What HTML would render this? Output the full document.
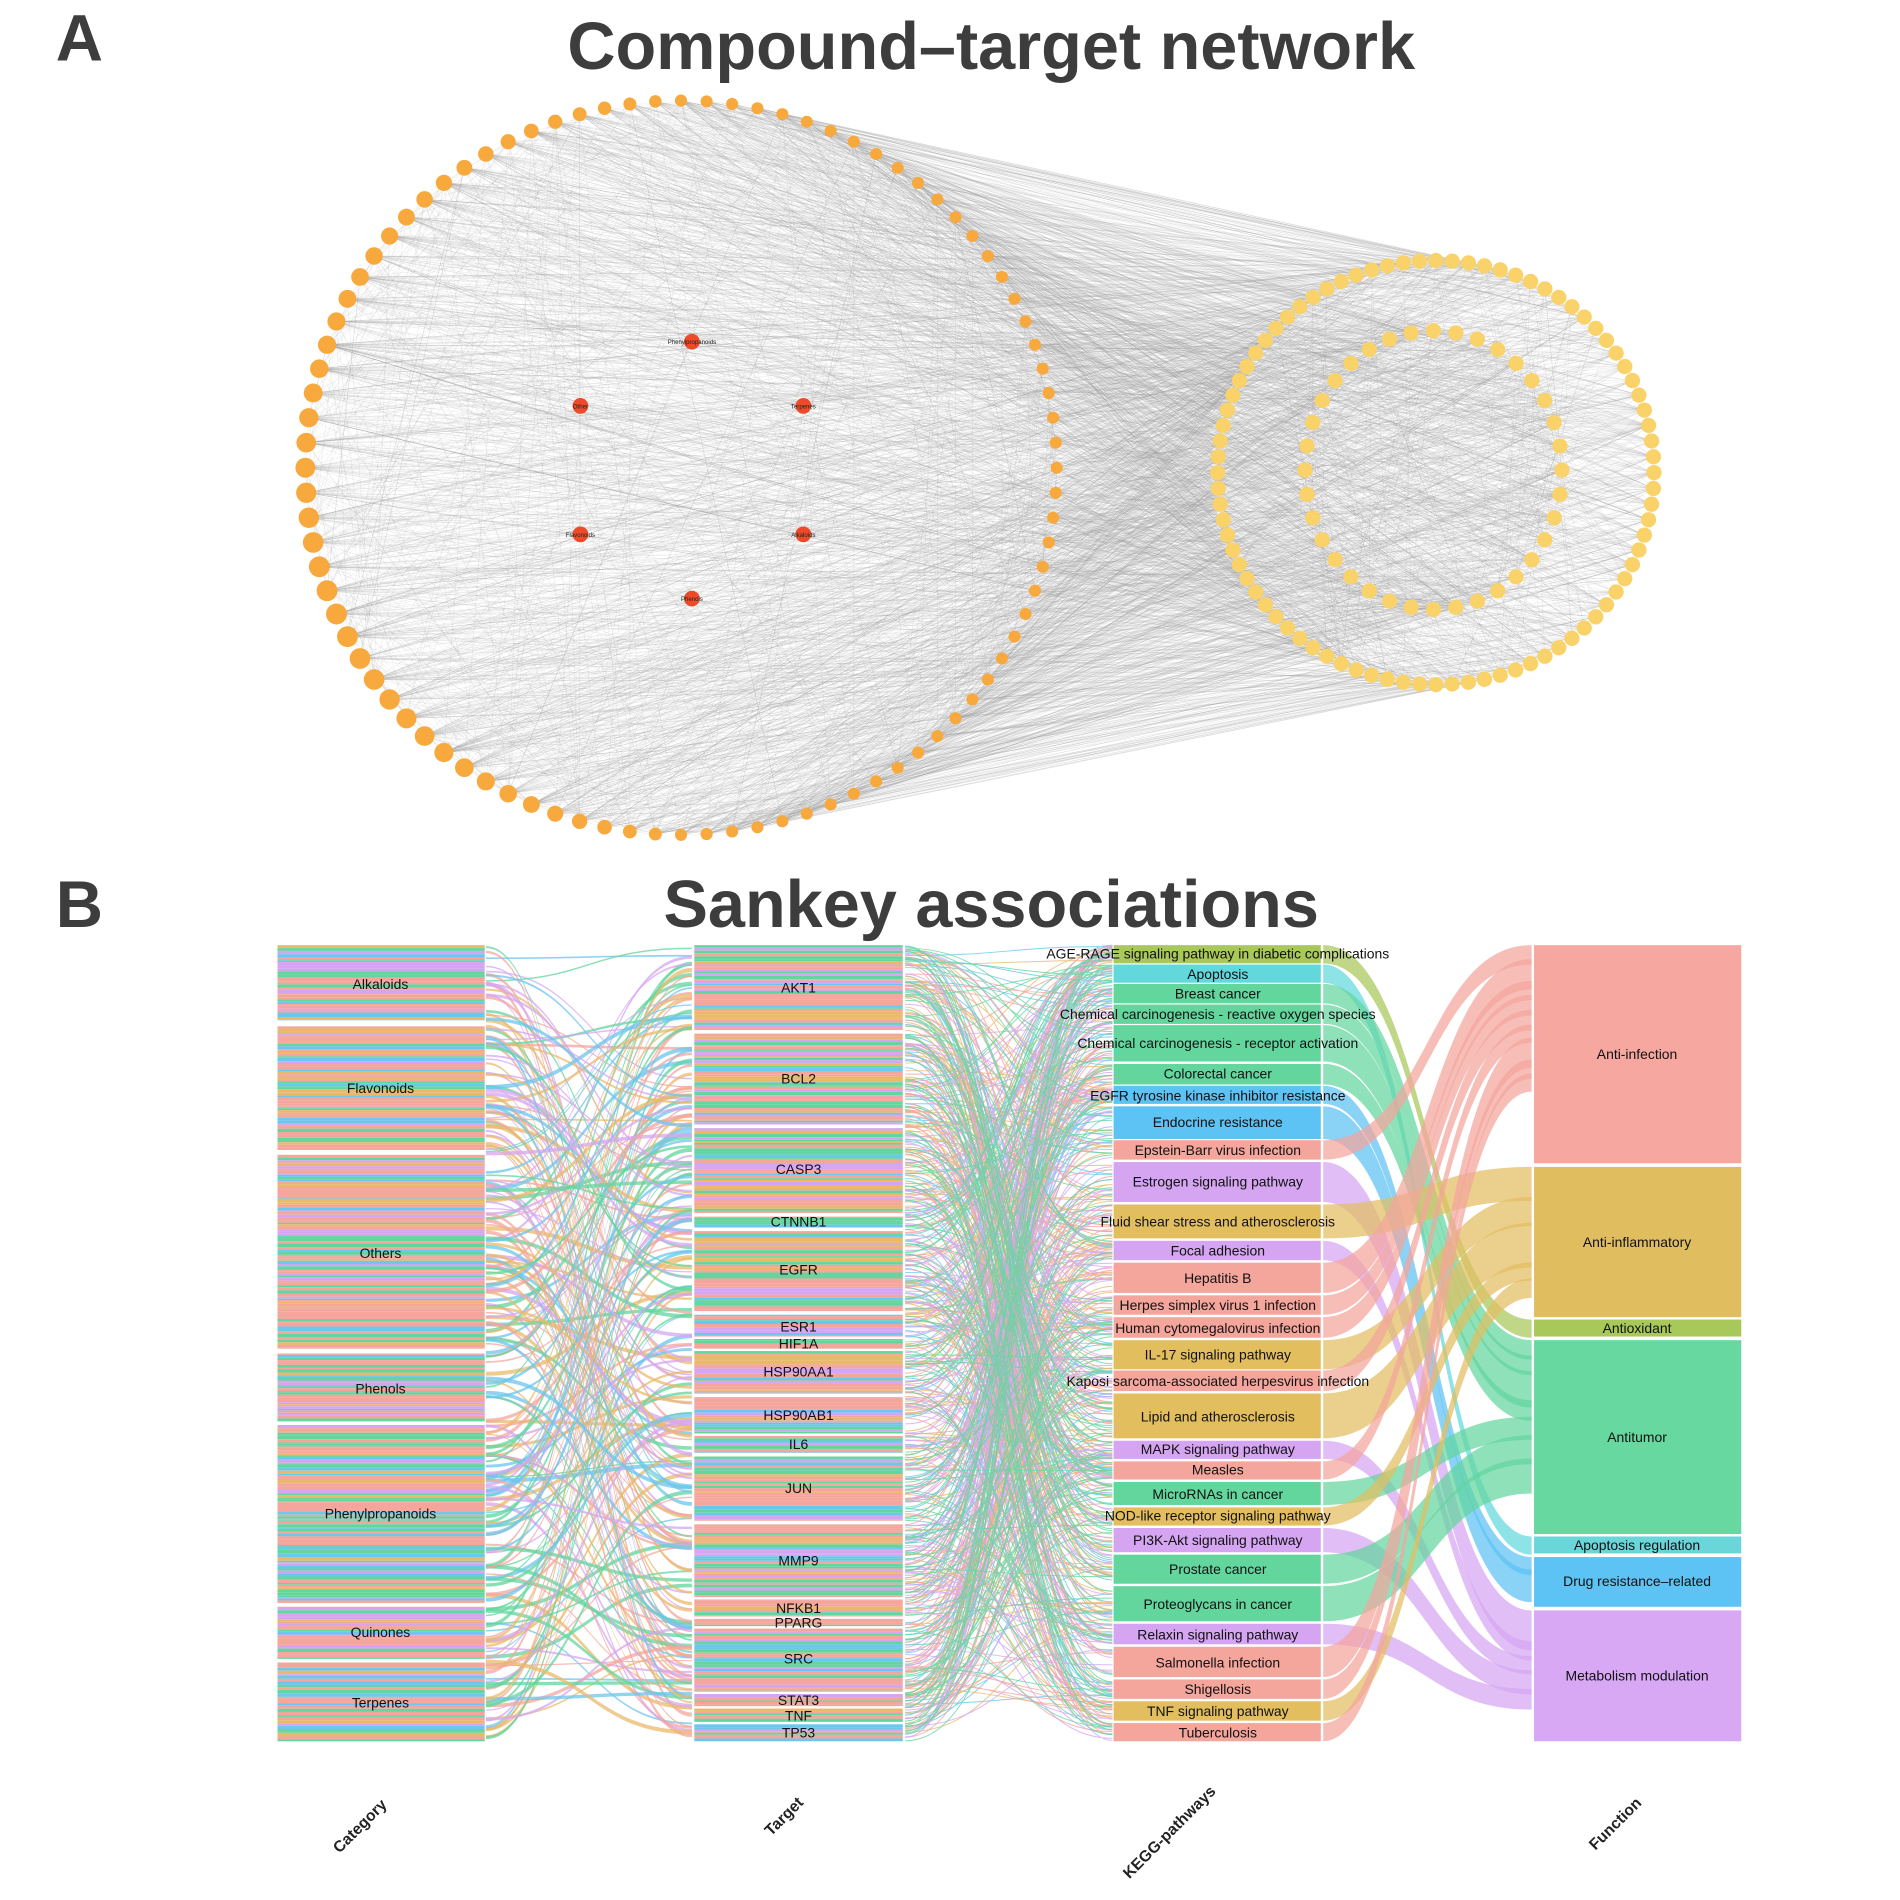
<!DOCTYPE html>
<html><head><meta charset="utf-8">
<style>
html,body{margin:0;padding:0;background:#fff;}
svg{display:block;}
text{font-family:"Liberation Sans",sans-serif;}
</style></head>
<body>
<svg id="s" width="1900" height="1900" viewBox="0 0 1568 1568" xmlns="http://www.w3.org/2000/svg">
<rect width="1568" height="1568" fill="#fff"/>
<g id="net"></g>
<g id="sank"></g>
<g id="labels" font-size="11.5" fill="#111" text-anchor="middle">
<text x="314" y="816">Alkaloids</text>
<text x="314" y="902">Flavonoids</text>
<text x="314" y="1038">Others</text>
<text x="314" y="1150">Phenols</text>
<text x="314" y="1253">Phenylpropanoids</text>
<text x="314" y="1351">Quinones</text>
<text x="314" y="1409">Terpenes</text>
<text x="659" y="819">AKT1</text>
<text x="659" y="894">BCL2</text>
<text x="659" y="969">CASP3</text>
<text x="659" y="1012">CTNNB1</text>
<text x="659" y="1052">EGFR</text>
<text x="659" y="1099">ESR1</text>
<text x="659" y="1113">HIF1A</text>
<text x="659" y="1136">HSP90AA1</text>
<text x="659" y="1172">HSP90AB1</text>
<text x="659" y="1196">IL6</text>
<text x="659" y="1232">JUN</text>
<text x="659" y="1292">MMP9</text>
<text x="659" y="1331">NFKB1</text>
<text x="659" y="1343">PPARG</text>
<text x="659" y="1373">SRC</text>
<text x="659" y="1407">STAT3</text>
<text x="659" y="1420">TNF</text>
<text x="659" y="1434">TP53</text>
<text x="1005" y="791">AGE-RAGE signaling pathway in diabetic complications</text>
<text x="1005" y="808">Apoptosis</text>
<text x="1005" y="824">Breast cancer</text>
<text x="1005" y="841">Chemical carcinogenesis - reactive oxygen species</text>
<text x="1005" y="865">Chemical carcinogenesis - receptor activation</text>
<text x="1005" y="890">Colorectal cancer</text>
<text x="1005" y="908">EGFR tyrosine kinase inhibitor resistance</text>
<text x="1005" y="930">Endocrine resistance</text>
<text x="1005" y="953">Epstein-Barr virus infection</text>
<text x="1005" y="979">Estrogen signaling pathway</text>
<text x="1005" y="1012">Fluid shear stress and atherosclerosis</text>
<text x="1005" y="1036">Focal adhesion</text>
<text x="1005" y="1059">Hepatitis B</text>
<text x="1005" y="1081">Herpes simplex virus 1 infection</text>
<text x="1005" y="1100">Human cytomegalovirus infection</text>
<text x="1005" y="1122">IL-17 signaling pathway</text>
<text x="1005" y="1144">Kaposi sarcoma-associated herpesvirus infection</text>
<text x="1005" y="1173">Lipid and atherosclerosis</text>
<text x="1005" y="1200">MAPK signaling pathway</text>
<text x="1005" y="1217">Measles</text>
<text x="1005" y="1237">MicroRNAs in cancer</text>
<text x="1005" y="1255">NOD-like receptor signaling pathway</text>
<text x="1005" y="1275">PI3K-Akt signaling pathway</text>
<text x="1005" y="1299">Prostate cancer</text>
<text x="1005" y="1328">Proteoglycans in cancer</text>
<text x="1005" y="1353">Relaxin signaling pathway</text>
<text x="1005" y="1376">Salmonella infection</text>
<text x="1005" y="1398">Shigellosis</text>
<text x="1005" y="1416">TNF signaling pathway</text>
<text x="1005" y="1434">Tuberculosis</text>
<text x="1351" y="874">Anti-infection</text>
<text x="1351" y="1029">Anti-inflammatory</text>
<text x="1351" y="1100">Antioxidant</text>
<text x="1351" y="1190">Antitumor</text>
<text x="1351" y="1279">Apoptosis regulation</text>
<text x="1351" y="1309">Drug resistance–related</text>
<text x="1351" y="1387">Metabolism modulation</text>
</g>
<g font-size="13" fill="#222" font-weight="bold">
<text transform="translate(300,1510) rotate(-45)" text-anchor="middle">Category</text>
<text transform="translate(650,1502) rotate(-45)" text-anchor="middle">Target</text>
<text transform="translate(968,1515) rotate(-45)" text-anchor="middle">KEGG-pathways</text>
<text transform="translate(1336,1508) rotate(-45)" text-anchor="middle">Function</text>
</g>
<g fill="#3d3d3d" font-weight="bold">
<text x="46" y="50" font-size="54">A</text>
<text x="818" y="57" font-size="55" text-anchor="middle">Compound–target network</text>
<text x="46" y="765" font-size="54">B</text>
<text x="818" y="765" font-size="55" text-anchor="middle">Sankey associations</text>
</g>
<g font-size="5" fill="#222" text-anchor="middle">
<text x="571" y="284">Phenylpropanoids</text><text x="479" y="337">Other</text><text x="663" y="337">Terpenes</text>
<text x="479" y="443">Flavonoids</text><text x="663" y="443">Alkaloids</text><text x="571" y="496">Phenols</text>
</g>
</svg>
<script>
(function(){
var NS="http://www.w3.org/2000/svg";
var seed=7;function r(){seed=(seed*16807)%2147483647;return (seed-1)/2147483646;}
function el(p,n,a){var e=document.createElementNS(NS,n);for(var k in a)e.setAttribute(k,a[k]);p.appendChild(e);return e;}
var net=document.getElementById('net');
var L=[],i,n=92;
for(i=0;i<n;i++){var t=-Math.PI/2+2*Math.PI*i/n;var x=562+310*Math.cos(t),y=386+303*Math.sin(t);
 var sz=5+4.5*Math.max(0,-Math.cos(t))*(0.6+0.4*Math.max(0,Math.sin(t)+0.3));L.push([x,y,sz]);}
var O=[],I=[];
for(i=0;i<84;i++){var t=2*Math.PI*i/84;O.push([1185+180*Math.cos(t),390+175*Math.sin(t)]);}
for(i=0;i<36;i++){var t=2*Math.PI*i/36;I.push([1183+106*Math.cos(t),388+115*Math.sin(t)]);}
var R=[[571,282],[479,335],[663,335],[479,441],[663,441],[571,494]];
var d="";
function ln(a,b){d+="M"+a[0].toFixed(1)+" "+a[1].toFixed(1)+"L"+b[0].toFixed(1)+" "+b[1].toFixed(1);}
var T=O.concat(I);
for(i=0;i<2400;i++){ln(L[Math.floor(r()*L.length)],T[Math.floor(r()*T.length)]);}
for(i=0;i<600;i++){ln(L[Math.floor(r()*L.length)],L[Math.floor(r()*L.length)]);}
for(i=0;i<L.length;i++){ln(L[i],R[Math.floor(r()*6)]);}
for(i=0;i<400;i++){ln(O[Math.floor(r()*O.length)],I[Math.floor(r()*I.length)]);}
el(net,'path',{d:d,stroke:'#9a9a9a','stroke-width':0.3,'stroke-opacity':0.3,fill:'none'});
L.forEach(function(p){el(net,'circle',{cx:p[0],cy:p[1],r:p[2],fill:'#F8A93D'});});
T.forEach(function(p){el(net,'circle',{cx:p[0],cy:p[1],r:6.3,fill:'#F9D26A'});});
R.forEach(function(p){el(net,'circle',{cx:p[0],cy:p[1],r:6.5,fill:'#EE4A2A'});});
var sk=document.getElementById('sank');
var pal=['#F4A59C','#63D69E','#E9B96A','#6CC6EE','#D5A5F2','#F4A59C','#F4A59C','#63D69E'];
function stripes(x,w,y0,y1){for(var y=y0;y<y1;){var h=1+r()*2;if(y+h>y1)h=y1-y;el(sk,'rect',{x:x,y:y,width:w,height:h,fill:pal[Math.floor(r()*pal.length)]});y+=h;}}
var cat=[[780,842],[847,949],[953,1113],[1117,1173],[1176,1323],[1326,1369],[1372,1437]];
var tg=[[780,850],[853,928],[931,1001],[1004,1013],[1016,1082],[1085,1103],[1105,1113],[1115,1150],[1153,1183],[1185,1199],[1202,1255],[1258,1318],[1320,1334],[1336,1342],[1344,1396],[1398,1408],[1410,1421],[1423,1437]];
cat.forEach(function(c){stripes(229,171,c[0],c[1]);});
tg.forEach(function(c){stripes(573,172,c[0],c[1]);});
function band(x0,y0,x1,y1,w,col,op){var m=(x0+x1)/2;
 el(sk,'path',{d:"M"+x0+" "+y0+"C"+m+" "+y0+" "+m+" "+y1+" "+x1+" "+y1+"L"+x1+" "+(y1+w)+"C"+m+" "+(y1+w)+" "+m+" "+(y0+w)+" "+x0+" "+(y0+w)+"Z",fill:col,'fill-opacity':op});}
for(i=0;i<260;i++){var a=780+r()*655,b=780+r()*655;band(401,a,571,b,1+r()*2.5,pal[Math.floor(r()*5)],0.75);}
var kg=[[780,795,'#A8C85A'],[796,811,'#62D8DC'],[812,828,'#63D69E'],[829,845,'#63D69E'],[846,876,'#63D69E'],[878,895,'#63D69E'],[896,911,'#5DC2F4'],[913,940,'#5DC2F4'],[941,957,'#F4A59C'],[959,992,'#D5A5F2'],[994,1022,'#E2BE5F'],[1024,1040,'#D5A5F2'],[1042,1067,'#F4A59C'],[1069,1085,'#F4A59C'],[1087,1104,'#F4A59C'],[1106,1130,'#E2BE5F'],[1131,1148,'#F4A59C'],[1150,1187,'#E2BE5F'],[1189,1204,'#D5A5F2'],[1206,1221,'#F4A59C'],[1223,1242,'#63D69E'],[1244,1259,'#E2BE5F'],[1261,1281,'#D5A5F2'],[1283,1307,'#63D69E'],[1309,1338,'#63D69E'],[1340,1357,'#D5A5F2'],[1359,1384,'#F4A59C'],[1386,1402,'#F4A59C'],[1404,1420,'#E2BE5F'],[1422,1437,'#F4A59C']];
var dd={};
for(i=0;i<700;i++){var c=pal[Math.floor(r()*5)];var a=780+r()*657,k=kg[Math.floor(r()*kg.length)];var b=k[0]+r()*(k[1]-k[0]);
 dd[c]=(dd[c]||"")+"M747 "+a.toFixed(1)+"C832 "+a.toFixed(1)+" 832 "+b.toFixed(1)+" 918 "+b.toFixed(1);}
for(var c in dd)el(sk,'path',{d:dd[c],stroke:c,'stroke-width':0.8,'stroke-opacity':0.8,fill:'none'});
var fn=[[780,960,'#F6A8A0'],[963,1087,'#E0BE5F'],[1089,1103,'#A8C85A'],[1106,1266,'#66D8A0'],[1268,1282,'#6AD6DA'],[1285,1326,'#5DC2F4'],[1329,1437,'#D8A8F5']];
var map={'#F4A59C':0,'#E2BE5F':1,'#A8C85A':2,'#63D69E':3,'#62D8DC':4,'#5DC2F4':5,'#D5A5F2':6};
var fpos=fn.map(function(f){return f[0];});
kg.forEach(function(k){var fi=map[k[2]];var h=k[1]-k[0];var f=fn[fi];var scale=(f[1]-f[0]);
 band(1092,k[0],1264,fpos[fi],h*1.0,k[2],0.72);fpos[fi]+=h*scale/ (fi==0?250:fi==1?140:fi==3?200:fi==6?140:fi==5?60:40);});
fn.forEach(function(f){el(sk,'rect',{x:1266,y:f[0],width:171,height:f[1]-f[0],fill:f[2]});});
kg.forEach(function(k){el(sk,'rect',{x:919,y:k[0],width:171,height:k[1]-k[0],fill:k[2]});});
})();
</script>
</body></html>
